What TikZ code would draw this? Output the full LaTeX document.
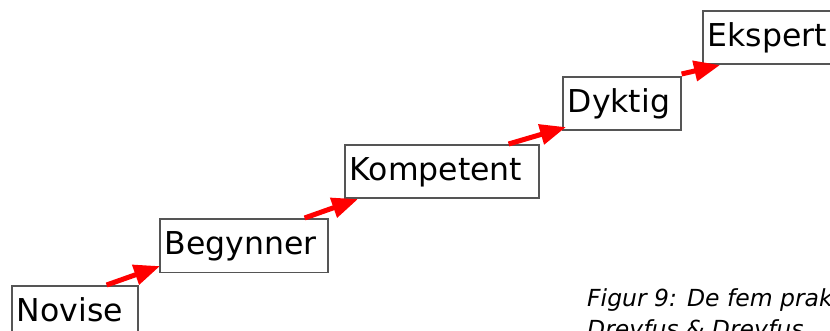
\documentclass[tikz,border=0pt]{standalone}
\usepackage{fontspec}
\setmainfont{DejaVu Sans}
\usetikzlibrary{arrows.meta,calc}

\definecolor{boxline}{HTML}{555555}
\definecolor{arrowred}{HTML}{FF0000}

\tikzset{
  level/.style={draw=boxline, line width=1.6pt, fill=white, anchor=north west,
    font=\fontsize{31.5}{31.5}\selectfont, align=left, inner xsep=5pt,
    inner ysep=13pt, text height=23pt, text depth=4.5pt},
  stepup/.style={draw=arrowred, line width=5pt,
    -{Triangle[length=26pt,width=20pt]}},
  captext/.style={anchor=base west, inner sep=0pt,
    font=\fontsize{23.5}{23.5}\selectfont\itshape}
}

\begin{document}
\begin{tikzpicture}[x=1pt,y=-1pt]
\useasboundingbox (0,0) rectangle (830,331);
\clip (0,0) rectangle (830,331);

% the five skill levels, each one a step higher
\node[level, text width=116pt] (novise)    at (11,285)  {Novise};
\node[level, text width=158pt] (begynner)  at (159,218) {Begynner};
\node[level, text width=184pt] (kompetent) at (344,144) {Kompetent};
\node[level, text width=108pt] (dyktig)    at (562,76)  {Dyktig};
\node[level, text width=140pt] (ekspert)   at (702,10)  {Ekspert};

% arrows climbing from one level to the next
\draw[stepup] ($(novise.north east)+(-32,0)$)    -- ($(begynner.south west)+(1,-7)$);
\draw[stepup] ($(begynner.north east)+(-24,0)$)  -- ($(kompetent.south west)+(14,0)$);
\draw[stepup] ($(kompetent.north east)+(-31,0)$) -- ($(dyktig.south west)+(4,-4)$);
\draw[stepup] ($(dyktig.north east)+(0,-2)$)     -- ($(ekspert.south west)+(18,0)$);

% figure caption
\node[captext] (cap1) at (587,306.7) {Figur 9: De fem praktiske ferdighetsnivåene};
\node[captext] (cap2) at (587,337.3) {Dreyfus \& Dreyfus};
\end{tikzpicture}
\end{document}
